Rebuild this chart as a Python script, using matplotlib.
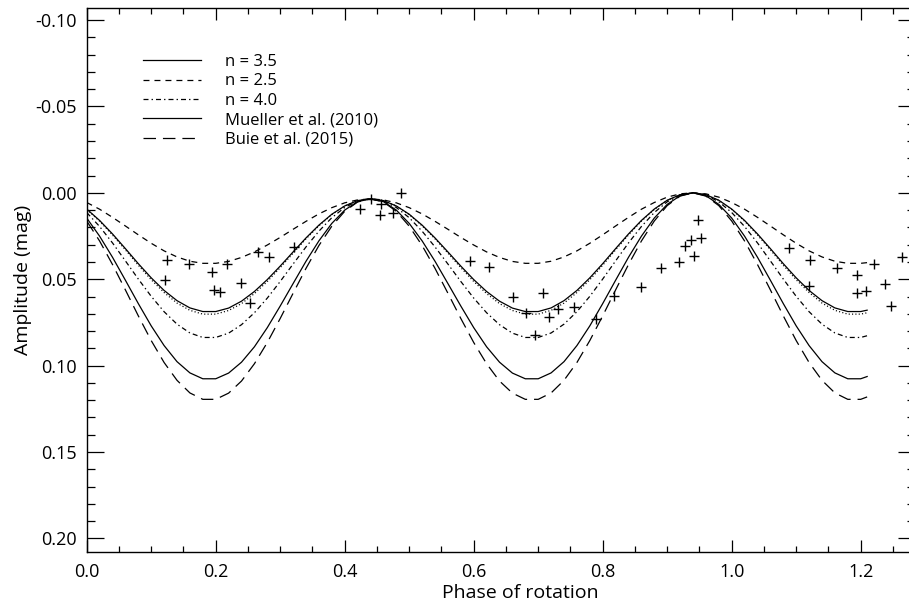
import matplotlib
matplotlib.use("Agg")
from matplotlib import pyplot as plt
from matplotlib.ticker import MultipleLocator

plt.rcParams["font.family"] = ["Open Sans", "DejaVu Sans"]
plt.rcParams["lines.scale_dashes"] = False

# rotational phase grid of the model curves
phase = [0.00, 0.02, 0.04, 0.06, 0.08, 0.10, 0.12, 0.14, 0.16, 0.18,
         0.20, 0.22, 0.24, 0.26, 0.28, 0.30, 0.32, 0.34, 0.36, 0.38,
         0.40, 0.42, 0.44, 0.46, 0.48, 0.50, 0.52, 0.54, 0.56, 0.58,
         0.60, 0.62, 0.64, 0.66, 0.68, 0.70, 0.72, 0.74, 0.76, 0.78,
         0.80, 0.82, 0.84, 0.86, 0.88, 0.90, 0.92, 0.94, 0.96, 0.98,
         1.00, 1.02, 1.04, 1.06, 1.08, 1.10, 1.12, 1.14, 1.16, 1.18,
         1.20, 1.21]

n35 = [0.0094, 0.0160, 0.0238, 0.0323, 0.0410, 0.0492, 0.0565, 0.0624, 0.0666, 0.0687,
       0.0687, 0.0667, 0.0627, 0.0571, 0.0502, 0.0424, 0.0342, 0.0261, 0.0187, 0.0124,
       0.0076, 0.0045, 0.0035, 0.0045, 0.0076, 0.0124, 0.0187, 0.0261, 0.0342, 0.0424,
       0.0502, 0.0571, 0.0627, 0.0667, 0.0687, 0.0687, 0.0666, 0.0624, 0.0565, 0.0492,
       0.0410, 0.0323, 0.0238, 0.0160, 0.0094, 0.0043, 0.0011, 0.0000, 0.0011, 0.0043,
       0.0094, 0.0160, 0.0238, 0.0323, 0.0410, 0.0492, 0.0565, 0.0624, 0.0666, 0.0687,
       0.0687, 0.0679]

n35_dotted = [0.0096, 0.0164, 0.0244, 0.0330, 0.0419, 0.0503, 0.0577, 0.0638, 0.0680, 0.0702,
              0.0702, 0.0681, 0.0641, 0.0583, 0.0513, 0.0433, 0.0349, 0.0266, 0.0191, 0.0126,
              0.0076, 0.0046, 0.0035, 0.0046, 0.0076, 0.0126, 0.0191, 0.0266, 0.0349, 0.0433,
              0.0513, 0.0583, 0.0641, 0.0681, 0.0702, 0.0702, 0.0680, 0.0638, 0.0577, 0.0503,
              0.0419, 0.0330, 0.0244, 0.0164, 0.0096, 0.0044, 0.0011, 0.0000, 0.0011, 0.0044,
              0.0096, 0.0164, 0.0244, 0.0330, 0.0419, 0.0503, 0.0577, 0.0638, 0.0680, 0.0702,
              0.0702, 0.0694]

n25 = [0.0056, 0.0095, 0.0142, 0.0192, 0.0243, 0.0292, 0.0336, 0.0371, 0.0396, 0.0408,
       0.0408, 0.0397, 0.0374, 0.0342, 0.0302, 0.0258, 0.0211, 0.0165, 0.0122, 0.0086,
       0.0058, 0.0041, 0.0035, 0.0041, 0.0058, 0.0086, 0.0122, 0.0165, 0.0211, 0.0258,
       0.0302, 0.0342, 0.0374, 0.0397, 0.0408, 0.0408, 0.0396, 0.0371, 0.0336, 0.0292,
       0.0243, 0.0192, 0.0142, 0.0095, 0.0056, 0.0025, 0.0006, 0.0000, 0.0006, 0.0025,
       0.0056, 0.0095, 0.0142, 0.0192, 0.0243, 0.0292, 0.0336, 0.0371, 0.0396, 0.0408,
       0.0408, 0.0404]

n40 = [0.0114, 0.0195, 0.0290, 0.0394, 0.0499, 0.0599, 0.0688, 0.0760, 0.0811, 0.0837,
       0.0837, 0.0812, 0.0763, 0.0694, 0.0609, 0.0513, 0.0412, 0.0313, 0.0222, 0.0144,
       0.0085, 0.0048, 0.0035, 0.0048, 0.0085, 0.0144, 0.0222, 0.0313, 0.0412, 0.0513,
       0.0609, 0.0694, 0.0763, 0.0812, 0.0837, 0.0837, 0.0811, 0.0760, 0.0688, 0.0599,
       0.0499, 0.0394, 0.0290, 0.0195, 0.0114, 0.0052, 0.0013, 0.0000, 0.0013, 0.0052,
       0.0114, 0.0195, 0.0290, 0.0394, 0.0499, 0.0599, 0.0688, 0.0760, 0.0811, 0.0837,
       0.0837, 0.0827]

mueller = [0.0146, 0.0251, 0.0373, 0.0506, 0.0641, 0.0770, 0.0884, 0.0977, 0.1042, 0.1076,
           0.1076, 0.1043, 0.0980, 0.0891, 0.0780, 0.0655, 0.0525, 0.0396, 0.0278, 0.0177,
           0.0100, 0.0051, 0.0035, 0.0051, 0.0100, 0.0177, 0.0278, 0.0396, 0.0525, 0.0655,
           0.0780, 0.0891, 0.0980, 0.1043, 0.1076, 0.1076, 0.1042, 0.0977, 0.0884, 0.0770,
           0.0641, 0.0506, 0.0373, 0.0251, 0.0146, 0.0067, 0.0017, 0.0000, 0.0017, 0.0067,
           0.0146, 0.0251, 0.0373, 0.0506, 0.0641, 0.0770, 0.0884, 0.0977, 0.1042, 0.1076,
           0.1076, 0.1063]

buie = [0.0163, 0.0279, 0.0415, 0.0562, 0.0712, 0.0855, 0.0982, 0.1085, 0.1158, 0.1195,
        0.1195, 0.1159, 0.1089, 0.0989, 0.0866, 0.0727, 0.0581, 0.0437, 0.0305, 0.0193,
        0.0107, 0.0053, 0.0035, 0.0053, 0.0107, 0.0193, 0.0305, 0.0437, 0.0581, 0.0727,
        0.0866, 0.0989, 0.1089, 0.1159, 0.1195, 0.1195, 0.1158, 0.1085, 0.0982, 0.0855,
        0.0712, 0.0562, 0.0415, 0.0279, 0.0163, 0.0074, 0.0019, 0.0000, 0.0019, 0.0074,
        0.0163, 0.0279, 0.0415, 0.0562, 0.0712, 0.0855, 0.0982, 0.1085, 0.1158, 0.1195,
        0.1195, 0.1181]

# observed photometry
obs_phase = [0.125, 0.122, 0.159, 0.194, 0.198, 0.207, 0.218, 0.239, 0.253, 0.266,
             0.283, 0.322, 0.424, 0.441, 0.455, 0.456, 0.475, 0.487, 0.594, 0.624,
             0.661, 0.681, 0.695, 0.708, 0.716, 0.731, 0.756, 0.790, 0.817, 0.859,
             0.890, 0.918, 0.928, 0.937, 0.942, 0.948, 0.952, 1.089, 1.121, 1.120,
             1.163, 1.194, 1.194, 1.209, 1.221, 1.238, 1.247, 1.264]
obs_amp = [0.0389, 0.0505, 0.0414, 0.0460, 0.0563, 0.0576, 0.0414, 0.0520, 0.0636, 0.0344,
           0.0370, 0.0312, 0.0096, 0.0038, 0.0128, 0.0065, 0.0119, 0.0003, 0.0395, 0.0431,
           0.0605, 0.0697, 0.0820, 0.0582, 0.0717, 0.0674, 0.0659, 0.0732, 0.0595, 0.0547,
           0.0433, 0.0399, 0.0308, 0.0273, 0.0366, 0.0157, 0.0262, 0.0321, 0.0389, 0.0538,
           0.0437, 0.0476, 0.0578, 0.0566, 0.0414, 0.0530, 0.0655, 0.0370]

fig = plt.figure(figsize=(9.09, 6.03), dpi=100)
ax = fig.add_axes([0.0954, 0.0841, 0.9112, 0.9031])

lw = 0.9
ax.plot(phase, n35, color="black", lw=lw, ls="-", label="n = 3.5")
ax.plot(phase, n25, color="black", lw=lw, dashes=(4.3, 3.6), label="n = 2.5")
ax.plot(phase, n40, color="black", lw=lw, dashes=(3.6, 2.2, 1.0, 2.2), label="n = 4.0")
ax.plot(phase, mueller, color="black", lw=lw, ls="-", label="Mueller et al. (2010)")
ax.plot(phase, buie, color="black", lw=lw, dashes=(9.0, 5.0), label="Buie et al. (2015)")
ax.plot(phase, n35_dotted, color="black", lw=lw, dashes=(0.8, 1.6), label="_nolegend_")

ax.plot(obs_phase, obs_amp, ls="none", marker="+", ms=7, mew=1.0, color="black",
        label="_nolegend_")

ax.set_xlim(0, 1.2842)
ax.set_ylim(0.2080, -0.1071)

ax.xaxis.set_major_locator(MultipleLocator(0.2))
ax.xaxis.set_minor_locator(MultipleLocator(0.05))
ax.yaxis.set_major_locator(MultipleLocator(0.05))
ax.yaxis.set_minor_locator(MultipleLocator(0.01))
ax.xaxis.set_major_formatter(plt.FormatStrFormatter("%.1f"))
ax.yaxis.set_major_formatter(plt.FormatStrFormatter("%.2f"))

ax.tick_params(which="both", direction="in", top=True, right=True, width=0.9,
               labelsize=13, colors="black")
ax.tick_params(axis="x", which="major", length=8.4, pad=8)
ax.tick_params(axis="x", which="minor", length=4.1)
ax.tick_params(axis="y", which="major", length=12, pad=7)
ax.tick_params(axis="y", which="minor", length=5.8)
for sp in ax.spines.values():
    sp.set_linewidth(1.0)

ax.set_xlabel("Phase of rotation", fontsize=14)
ax.xaxis.set_label_coords(0.523, -0.058)
ax.set_ylabel("Amplitude (mag)", fontsize=14)
ax.yaxis.set_label_coords(-0.066, 0.5)

ax.legend(loc="upper left", bbox_to_anchor=(0.068, 0.915), frameon=False,
          fontsize=12, handlelength=3.5, handletextpad=1.4, labelspacing=0.2,
          borderpad=0, borderaxespad=0)

fig.savefig("out.png", dpi=100)
